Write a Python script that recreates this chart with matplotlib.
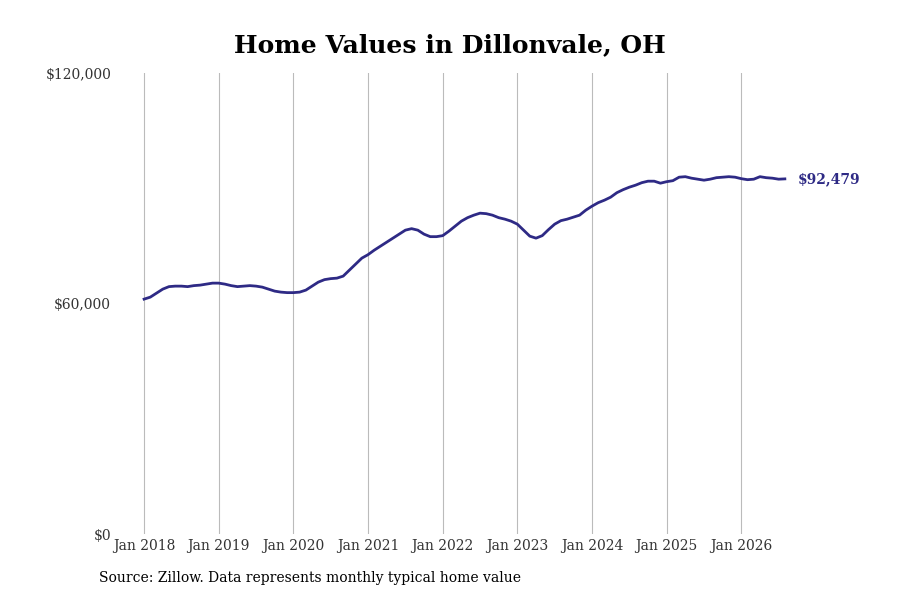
import matplotlib.pyplot as plt

# pixel readings converted to values (monthly, Jan 2018 .. Jul 2026)
y_px = [299, 297, 293, 289, 286.5, 286, 286, 286.5, 285.5, 285, 284, 283,
        283, 284, 285.5, 286.5, 286, 285.5, 286, 287, 289, 291, 292, 292.5,
        292.5, 292, 290, 286, 282, 279.5, 278.5, 278, 276, 270, 264, 258,
        254.5, 250, 246, 242, 238, 234, 230, 228.5, 230, 234, 236.5, 236.5,
        235.5, 231, 226, 221, 217.5, 215, 213, 213.5, 215, 217.5, 219, 221,
        224, 230, 236, 238, 235.5, 229.5, 224, 220.5, 219, 217, 215, 210,
        206, 202.5, 200, 197, 192.5, 189.5, 187, 185, 182.5, 181, 181, 183,
        181.5, 180.5, 177, 176.5, 178, 179, 180, 179, 177.5, 177, 176.5, 177,
        178.5, 179.5, 179, 176.5, 177.5, 178, 179, 178]
values = [(534 - p) / 3.842 * 1000 for p in y_px]
values[-1] = 92479
months = list(range(len(values)))

years = list(range(2018, 2027))
tick_pos = [(y - 2018) * 12 for y in years]
tick_labels = [f"Jan {y}" for y in years]

plt.rcParams['font.family'] = 'DejaVu Serif'
fig = plt.figure(figsize=(9, 6), dpi=100)
ax = fig.add_axes([0.129, 0.11, 0.826, 0.768])
ax.plot(months, values, color='#2e2a85', lw=2)
ax.set_xlim(-4.5, 115)
ax.set_ylim(0, 120000)
ax.set_xticks(tick_pos)
ax.set_xticklabels(tick_labels)
ax.set_yticks([0, 60000, 120000])
ax.set_yticklabels(['$0', '$60,000', '$120,000'])
ax.tick_params(length=0, labelsize=10, colors='#333333')
ax.grid(axis='x', color='#bbbbbb', lw=0.8)
for s in ax.spines.values():
    s.set_visible(False)
ax.text(months[-1] + 2, values[-1], f"${values[-1]:,.0f}", color='#2e2a85',
        fontweight='bold', fontsize=10, va='center')
fig.text(0.5, 0.925, 'Home Values in Dillonvale, OH', ha='center', va='center',
         fontsize=18, fontweight='bold')
fig.text(0.11, 0.03, 'Source: Zillow. Data represents monthly typical home value',
         fontsize=10)
fig.savefig('out.png')
